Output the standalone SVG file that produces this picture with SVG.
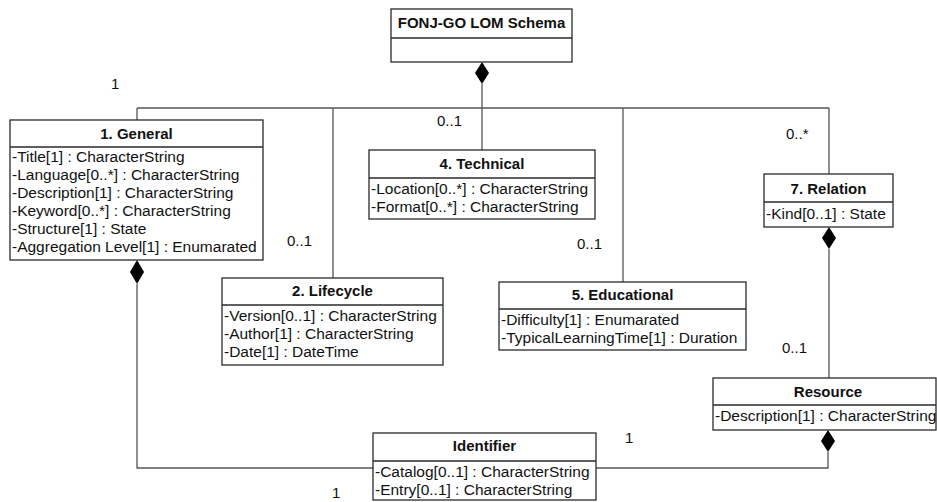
<svg xmlns="http://www.w3.org/2000/svg" width="937" height="502" viewBox="0 0 937 502">
<style>
  .box { fill: #ffffff; stroke: #2a2a2a; stroke-width: 1.3; }
  .sep { stroke: #2a2a2a; stroke-width: 1.3; }
  .title { font-family: "Liberation Sans", Arial, sans-serif; font-size: 15px; font-weight: bold; fill: #111; text-anchor: middle; }
  .attr { font-family: "Liberation Sans", Arial, sans-serif; font-size: 15.5px; fill: #111; }
  .mult { font-family: "Liberation Sans", Arial, sans-serif; font-size: 15px; fill: #111; }
  .conn { fill: none; stroke: #555; stroke-width: 1.3; }
  .dia { fill: #000; stroke: none; }
</style>
<rect width="937" height="502" fill="#ffffff"/>

<g id="connectors">
  <path class="conn" d="M137,108 H829"/>
  <path class="conn" d="M482,84 V150"/>
  <path class="conn" d="M137,108 V120"/>
  <path class="conn" d="M333,108 V278"/>
  <path class="conn" d="M623,108 V282"/>
  <path class="conn" d="M829,108 V174"/>
  <path class="conn" d="M829,249 V378"/>
  <path class="conn" d="M137,284 V468 H373"/>
  <path class="conn" d="M828,452 V468 H596"/>
  <polygon class="dia" points="482,62 489,73 482,84 475,73"/>
  <polygon class="dia" points="829,227 836,238 829,249 822,238"/>
  <polygon class="dia" points="137,260 144,272 137,284 130,272"/>
  <polygon class="dia" points="828,430 835,441 828,452 821,441"/>
  <text class="mult" x="111" y="89">1</text>
  <text class="mult" x="437" y="126">0..1</text>
  <text class="mult" x="287" y="246">0..1</text>
  <text class="mult" x="577" y="249">0..1</text>
  <text class="mult" x="786" y="139">0..*</text>
  <text class="mult" x="782" y="353">0..1</text>
  <text class="mult" x="625" y="443">1</text>
  <text class="mult" x="332" y="498">1</text>
</g>

<g id="schema">
  <rect class="box" x="391" y="9" width="181" height="53"/>
  <line class="sep" x1="391" y1="38" x2="572" y2="38"/>
  <text class="title" x="481.5" y="28">FONJ-GO LOM Schema</text>
</g>

<g id="general">
  <rect class="box" x="10" y="120" width="253" height="140"/>
  <line class="sep" x1="10" y1="147" x2="263" y2="147"/>
  <text class="title" x="136.5" y="139">1. General</text>
  <text class="attr" x="12" y="162">-Title[1] : CharacterString</text>
  <text class="attr" x="12" y="180">-Language[0..*] : CharacterString</text>
  <text class="attr" x="12" y="198">-Description[1] : CharacterString</text>
  <text class="attr" x="12" y="216">-Keyword[0..*] : CharacterString</text>
  <text class="attr" x="12" y="234">-Structure[1] : State</text>
  <text class="attr" x="12" y="252">-Aggregation Level[1] : Enumarated</text>
</g>

<g id="technical">
  <rect class="box" x="369" y="150" width="226" height="69"/>
  <line class="sep" x1="369" y1="178" x2="595" y2="178"/>
  <text class="title" x="482" y="169">4. Technical</text>
  <text class="attr" x="371" y="194">-Location[0..*] : CharacterString</text>
  <text class="attr" x="371" y="212">-Format[0..*] : CharacterString</text>
</g>

<g id="relation">
  <rect class="box" x="764" y="174" width="129" height="53"/>
  <line class="sep" x1="764" y1="202" x2="893" y2="202"/>
  <text class="title" x="828.5" y="194">7. Relation</text>
  <text class="attr" x="766" y="219">-Kind[0..1] : State</text>
</g>

<g id="lifecycle">
  <rect class="box" x="222" y="278" width="221" height="87"/>
  <line class="sep" x1="222" y1="305" x2="443" y2="305"/>
  <text class="title" x="332.5" y="296">2. Lifecycle</text>
  <text class="attr" x="224" y="321">-Version[0..1] : CharacterString</text>
  <text class="attr" x="224" y="339">-Author[1] : CharacterString</text>
  <text class="attr" x="224" y="357">-Date[1] : DateTime</text>
</g>

<g id="educational">
  <rect class="box" x="499" y="282" width="247" height="68"/>
  <line class="sep" x1="499" y1="309" x2="746" y2="309"/>
  <text class="title" x="622.5" y="300">5. Educational</text>
  <text class="attr" x="501" y="325">-Difficulty[1] : Enumarated</text>
  <text class="attr" x="501" y="343">-TypicalLearningTime[1] : Duration</text>
</g>

<g id="resource">
  <rect class="box" x="713" y="378" width="223" height="52"/>
  <line class="sep" x1="713" y1="405" x2="936" y2="405"/>
  <text class="title" x="828" y="397">Resource</text>
  <text class="attr" x="715" y="421">-Description[1] : CharacterString</text>
</g>

<g id="identifier">
  <rect class="box" x="373" y="433" width="223" height="67"/>
  <line class="sep" x1="373" y1="461" x2="596" y2="461"/>
  <text class="title" x="484.5" y="451">Identifier</text>
  <text class="attr" x="375" y="477">-Catalog[0..1] : CharacterString</text>
  <text class="attr" x="375" y="495">-Entry[0..1] : CharacterString</text>
</g>
</svg>
